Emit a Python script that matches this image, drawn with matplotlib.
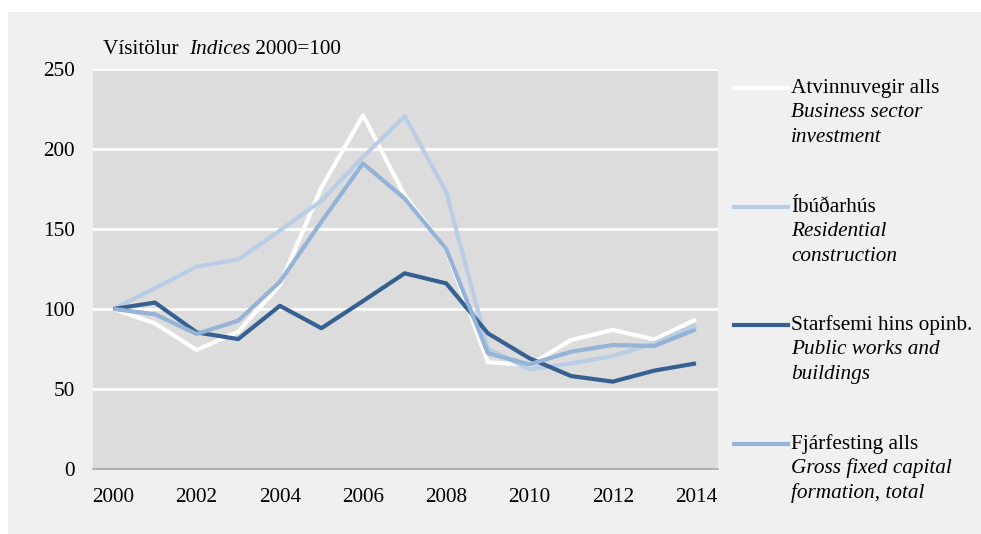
import matplotlib
matplotlib.use('Agg')
import matplotlib.pyplot as plt
from matplotlib.lines import Line2D
from matplotlib.patches import Rectangle

years = list(range(2000, 2015))
business = [100, 91, 74.4, 85.8, 115, 176, 221, 171, 137, 66.7, 65, 80.6, 86.9, 81, 93.5]
residential = [100, 113, 126.5, 131, 149, 167.7, 195, 220.6, 173, 75.4, 62.3, 66, 70.6, 78.5, 90]
public = [100, 104, 85.4, 81.2, 102, 88, 105, 122.3, 116, 84.8, 69.2, 58.1, 54.6, 61.5, 66]
total = [100, 96.7, 84.4, 92.7, 117, 154.6, 191, 169, 137.5, 72.3, 65.4, 73.3, 77.5, 76.9, 87.3]

yticks = [0, 50, 100, 150, 200, 250]
xticks = [2000, 2002, 2004, 2006, 2008, 2010, 2012, 2014]

series = [
    (business, '#FFFFFF', 'Atvinnuvegir alls', ['Business sector', 'investment']),
    (residential, '#B9CDE5', 'Íbúðarhús', ['Residential', 'construction']),
    (public, '#376092', 'Starfsemi hins opinb.', ['Public works and', 'buildings']),
    (total, '#95B3D7', 'Fjárfesting alls', ['Gross fixed capital', 'formation, total']),
]

plt.rcParams['font.family'] = ['Liberation Serif', 'DejaVu Serif']
fs = 15.3
W, H = 981, 534

fig = plt.figure(figsize=(W / 100, H / 100), dpi=100)
fig.patch.set_facecolor('white')
# light grey panel behind everything
fig.add_artist(Rectangle((8 / W, 0), 1 - 8 / W, 1 - 12 / H, transform=fig.transFigure,
                         facecolor='#F0F0F0', edgecolor='none', zorder=-10))

ax = fig.add_axes([93 / W, 65 / H, 625 / W, 400 / H])
ax.set_facecolor('#DCDCDC')
for s in ['top', 'right', 'left']:
    ax.spines[s].set_visible(False)
ax.spines['bottom'].set_color('#A6A6A6')
ax.spines['bottom'].set_linewidth(1.2)

for v in yticks[1:]:
    ax.axhline(v, color='white', lw=2, zorder=1)

for vals, col, name, eng in series:
    ax.plot(years, vals, color=col, lw=3, zorder=3, solid_capstyle='butt')

ax.set_xlim(1999.51, 2014.53)
ax.set_ylim(0, 250)
ax.set_yticks(yticks)
ax.set_xticks(xticks)
ax.tick_params(axis='y', length=0, pad=13, labelsize=fs)
ax.tick_params(axis='x', length=0, pad=13.5, labelsize=fs)

# header text with mixed italic
t1 = fig.text(103 / W, 1 - 50 / H, 'Vísitölur  ', fontsize=fs, va='center')
t2 = plt.annotate('Indices', xy=(1, 0), xycoords=t1, va='bottom', fontsize=fs, style='italic')
t3 = plt.annotate(' 2000=100', xy=(1, 0), xycoords=t2, va='bottom', fontsize=fs)

# legend drawn by hand
ly = [88, 207, 325, 444]
for (vals, col, name, eng), y in zip(series, ly):
    fig.add_artist(Line2D([734 / W, 788 / W], [1 - y / H, 1 - y / H], color=col, lw=3,
                          transform=fig.transFigure))
    fig.text(791 / W, 1 - y / H, name, fontsize=fs, va='center')
    for k, line in enumerate(eng):
        fig.text(791 / W, 1 - (y + 24.5 * (k + 1)) / H, line, fontsize=fs, va='center',
                 style='italic')

fig.savefig('out.png', dpi=100, facecolor=fig.get_facecolor())
